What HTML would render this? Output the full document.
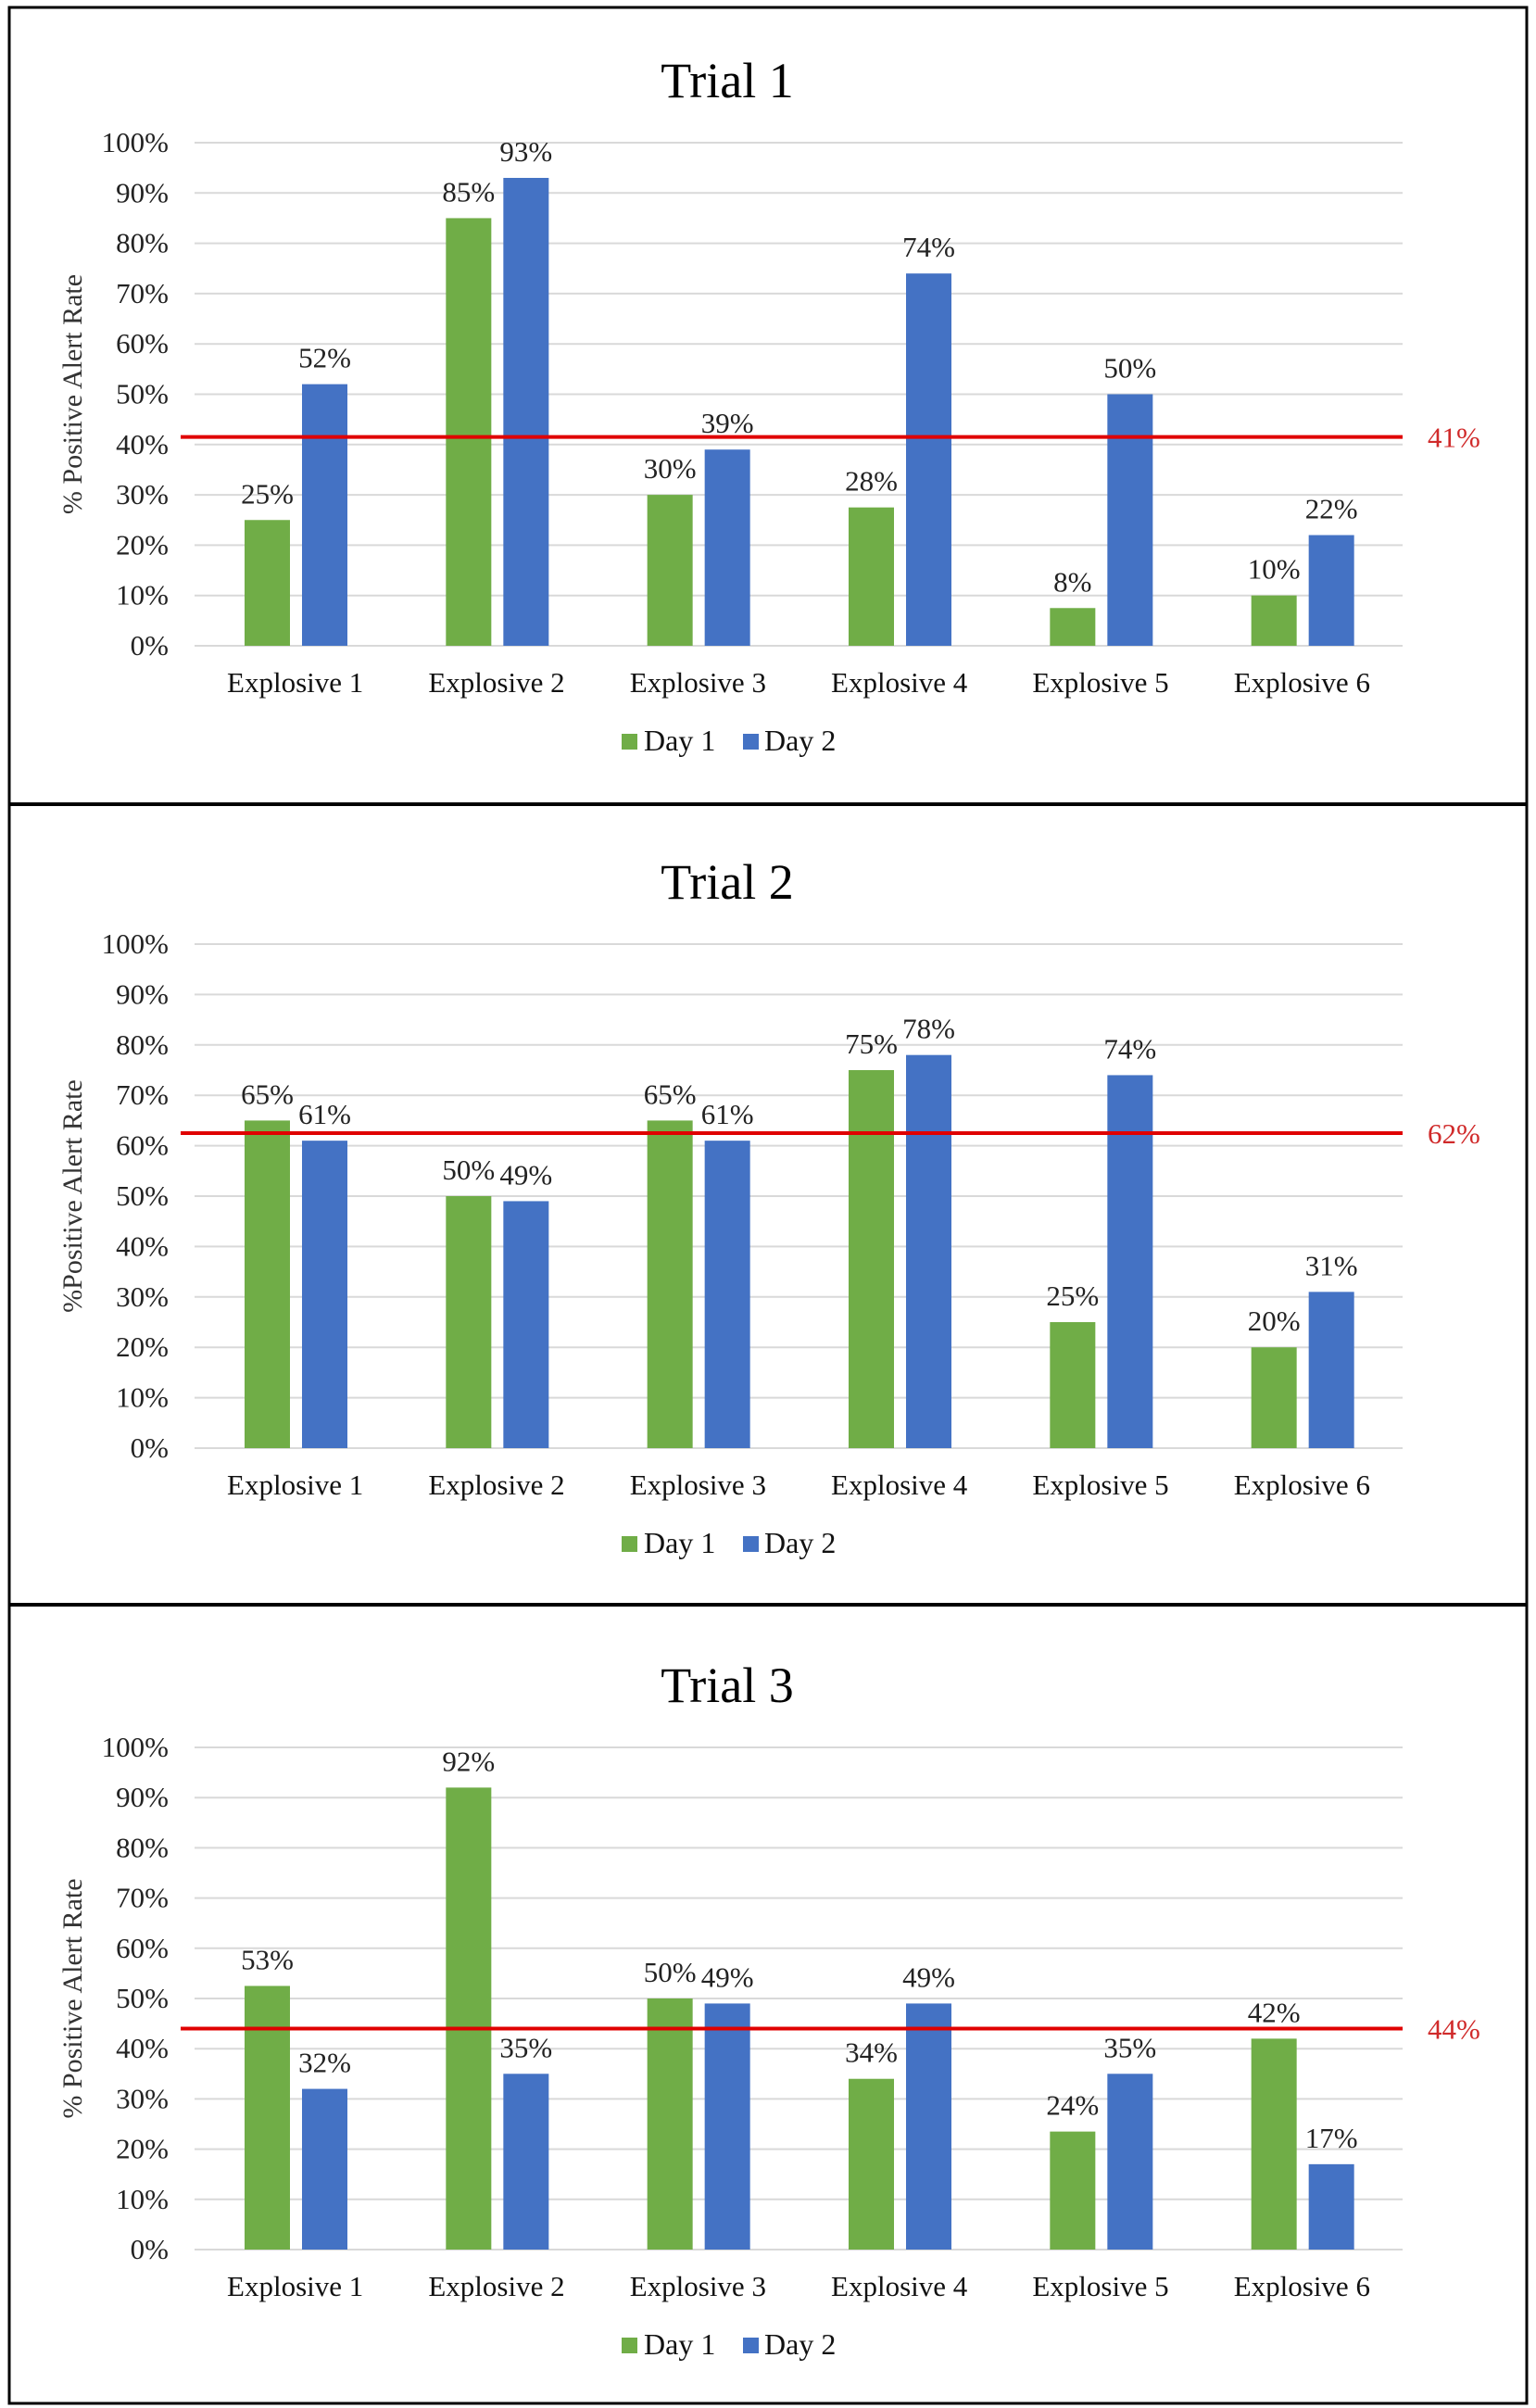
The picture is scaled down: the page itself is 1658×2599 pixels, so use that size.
<!DOCTYPE html>
<html><head><meta charset="utf-8">
<style>
html,body{margin:0;padding:0;background:#fff;}
svg{display:block;font-family:"Liberation Serif","Times New Roman",serif;}
</style></head>
<body>
<svg id="chart" width="1658" height="2599" viewBox="0 0 1658 2599" xmlns="http://www.w3.org/2000/svg"></svg>
<script>
const categories = ["Explosive 1","Explosive 2","Explosive 3","Explosive 4","Explosive 5","Explosive 6"];
const trialTitles = ["Trial 1","Trial 2","Trial 3"];
const axisTitles = ["% Positive Alert Rate","%Positive Alert Rate","% Positive Alert Rate"];
const day1Values = [[25,85,30,27.5,7.5,10],[65,50,65,75,25,20],[52.5,92,50,34,23.5,42]];
const day2Values = [[52,93,39,74,50,22],[61,49,61,78,74,31],[32,35,49,49,35,17]];
const day1Labels = [["25%","85%","30%","28%","8%","10%"],["65%","50%","65%","75%","25%","20%"],["53%","92%","50%","34%","24%","42%"]];
const day2Labels = [["52%","93%","39%","74%","50%","22%"],["61%","49%","61%","78%","74%","31%"],["32%","35%","49%","49%","35%","17%"]];
const averageValues = [41.5,62.5,44];
const averageLabels = ["41%","62%","44%"];
const yTicks = [0,10,20,30,40,50,60,70,80,90,100];
const seriesNames = ["Day 1","Day 2"];

const NS="http://www.w3.org/2000/svg";
const svg=document.getElementById('chart');
function mk(tag,attrs,parent){const e=document.createElementNS(NS,tag);for(const k in attrs)e.setAttribute(k,attrs[k]);(parent||svg).appendChild(e);return e;}

// panels geometry (top of 100% line, bottom 0% line)
const panels=[{top:154,bottom:697},{top:1019,bottom:1563},{top:1886,bottom:2428}];
const plotL=210, plotR=1514;
const groupW=(plotR-plotL)/categories.length;
const GREEN="#70AD47", BLUE="#4472C4";

// border
const border=mk('rect',{x:10,y:8,width:1638,height:2586,fill:'none',stroke:'#000','stroke-width':3});


[868,1732].forEach(y=>{
  const l=mk('line',{x1:10,x2:1648,y1:y,y2:y,stroke:'#000','stroke-width':4});
  
  
});

panels.forEach((p,t)=>{
  const g=mk('g',{});
  
  
  const yS=v=>p.bottom-(v/100)*(p.bottom-p.top);

  const title=mk('text',{x:785,y:p.top-49,'font-size':54,'text-anchor':'middle',fill:'#000'},g);
  title.textContent=trialTitles[t];
  
  

  yTicks.forEach(v=>{
    const gl=mk('line',{x1:plotL,x2:plotR,y1:yS(v),y2:yS(v),stroke:'#d9d9d9','stroke-width':2},g);
    
    
    const tl=mk('text',{x:182,y:yS(v)+10,'font-size':31,'text-anchor':'end',fill:'#222'},g);
    tl.textContent=v+'%';
    
    
  });

  const cy=(p.top+p.bottom)/2;
  const at=mk('text',{x:0,y:0,'font-size':30,'text-anchor':'middle',fill:'#333',transform:'translate(88,'+cy+') rotate(-90)'},g);
  at.textContent=axisTitles[t];
  
  

  categories.forEach((c,i)=>{
    const gx=plotL+i*groupW;
    const v1=day1Values[t][i], v2=day2Values[t][i];
    const b1=mk('rect',{x:gx+54,y:yS(v1),width:49,height:p.bottom-yS(v1),fill:GREEN},g);
    
    
    const b2=mk('rect',{x:gx+116,y:yS(v2),width:49,height:p.bottom-yS(v2),fill:BLUE},g);
    
    
    const l1=mk('text',{x:gx+78.5,y:yS(v1)-18,'font-size':31,'text-anchor':'middle',fill:'#222'},g);
    l1.textContent=day1Labels[t][i];
    
    
    const l2=mk('text',{x:gx+140.5,y:yS(v2)-18,'font-size':31,'text-anchor':'middle',fill:'#222'},g);
    l2.textContent=day2Labels[t][i];
    
    
    const cl=mk('text',{x:gx+groupW/2,y:p.bottom+50,'font-size':31,'text-anchor':'middle',fill:'#111'},g);
    cl.textContent=c;
    
    
  });

  const ay=yS(averageValues[t]);
  const rl=mk('line',{x1:195,x2:plotR,y1:ay,y2:ay,stroke:'#e00000','stroke-width':4},g);
  
  
  const rt=mk('text',{x:1541,y:ay+11,'font-size':31,fill:'#d02a2a'},g);
  rt.textContent=averageLabels[t];
  
  

  const ly=p.bottom+95;
  const lg=mk('g',{},g);
  
  
  [[671,GREEN,695],[802,BLUE,825]].forEach((e,k)=>{
    const sq=mk('rect',{x:e[0],y:ly,width:17,height:17,fill:e[1]},lg);
    
    
    const tx=mk('text',{x:e[2],y:ly+18,'font-size':32,fill:'#111'},lg);
    tx.textContent=seriesNames[k];
    
    
  });
});
</script>
</body></html>
